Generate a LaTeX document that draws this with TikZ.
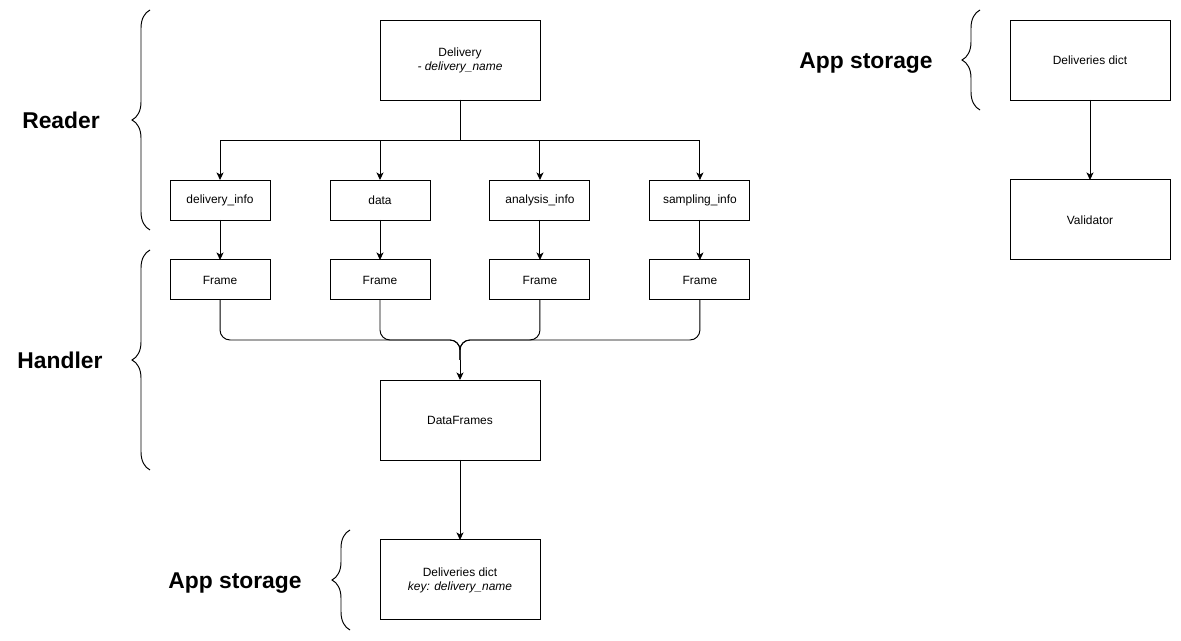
\documentclass[tikz,border=0pt]{standalone}
\usepackage{fontspec}
\setmainfont{Liberation Sans}
\usetikzlibrary{positioning,arrows.meta,decorations.pathreplacing}

\begin{document}
\begin{tikzpicture}[x=0.02cm, y=-0.02cm, line width=0.55pt, node distance=1.6cm and 1.2cm, text centered]
  % Styles
  \tikzstyle{big}=[rectangle, draw, outer sep=0pt, minimum width=3.2cm, minimum height=1.6cm, align=center, font=\fontsize{6.8}{8}\selectfont]
  \tikzstyle{small}=[rectangle, draw, outer sep=0pt, minimum width=2cm, minimum height=0.8cm, font=\fontsize{6.8}{8}\selectfont]
  \tikzstyle{group}=[font=\fontsize{13}{15}\selectfont\bfseries]
  \tikzstyle{arrow}=[-{Stealth[length=1.5mm, width=1.4mm, inset=0.4mm]}]
  \tikzstyle{curly}=[decorate, decoration={brace, amplitude=0.36cm}]

  \useasboundingbox (0,0) rectangle (1181,641);

  % Reader
  \node[big] (delivery) at (460,60) {Delivery\\\textit{- delivery\_name}};
  \node[small] (data) at (380,200) {data};
  \node[small, left=of data] (dinfo) {delivery\_info};
  \node[small, right=of data] (ainfo) {analysis\_info};
  \node[small, right=of ainfo] (sinfo) {sampling\_info};
  % Handler
  \node[small, below=0.8cm of dinfo] (frame1) {Frame};
  \node[small, below=0.8cm of data] (frame2) {Frame};
  \node[small, below=0.8cm of ainfo] (frame3) {Frame};
  \node[small, below=0.8cm of sinfo] (frame4) {Frame};
  \node[big] (frames) at (460,420) {DataFrames};
  % App storage
  \node[big, below=of frames] (store) {Deliveries dict\\\textit{key: delivery\_name}};
  \node[big] (dict) at (1090,60) {Deliveries dict};
  \node[big, below=of dict] (validator) {Validator};

  % Group labels
  \node[group] (reader) at (61,120) {Reader};
  \node[group] (handler) at (60,360) {Handler};
  \node[group] (storage) at (235,583) {App storage};
  \node[group] (storage2) at (866,63) {App storage};

  % Braces
  \draw[curly] (150,230) -- (150,10);
  \draw[curly] (150,470) -- (150,250);
  \draw[curly] (350,630) -- (350,530);
  \draw[curly] (980,110) -- (980,10);

  % Arrows
  \foreach \n in {dinfo, data, ainfo, sinfo}
    \draw[arrow] (delivery.south) -- ++(0,40) -| (\n.north);
  \foreach \a/\b in {dinfo/frame1, data/frame2, ainfo/frame3, sinfo/frame4}
    \draw[arrow] (\a) -- (\b);
  \coordinate (join) at (460,340);
  \coordinate (merge) at (460,360);
  \foreach \n in {frame1, frame2, frame3, frame4}
    \draw[rounded corners=0.2cm] (\n.south) |- (join) -- (merge);
  \draw[arrow] (merge) -- (frames.north);
  \draw[arrow] (frames) -- (store);
  \draw[arrow] (dict) -- (validator);
\end{tikzpicture}
\end{document}
